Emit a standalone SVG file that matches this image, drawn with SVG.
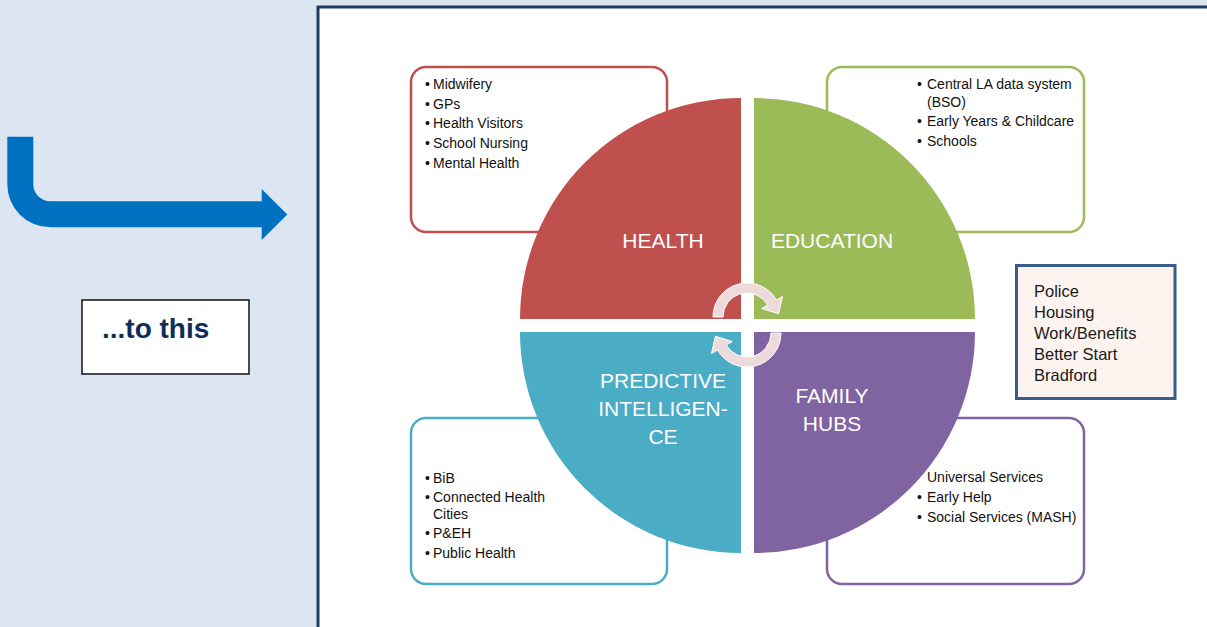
<svg xmlns="http://www.w3.org/2000/svg" width="1207" height="627" viewBox="0 0 1207 627">
<defs>
<style>
.bg{fill:#DCE6F2}
.frame{fill:#FFFFFF;stroke:#1F3B63;stroke-width:3}
.box{fill:#FFFFFF;stroke-width:2.5}
.t{font-family:"Liberation Sans",Arial,sans-serif;font-size:14px;fill:#111111}
.q{font-family:"Liberation Sans",Arial,sans-serif;font-size:21px;fill:#FFFFFF;text-anchor:middle}
.side{font-family:"Liberation Sans",Arial,sans-serif;font-size:16.5px;fill:#1A1A1A}
.cyc{fill:#EEDADA;stroke:#FFFFFF;stroke-width:1}
</style>
</defs>
<rect class="bg" x="0" y="0" width="1207" height="627"/>
<rect class="frame" x="318" y="7" width="1000" height="700"/>

<g id="to-this">
<rect x="82" y="300" width="167" height="74" fill="#FFFFFF" stroke="#111111" stroke-width="1.5"/>
<text x="102" y="338" font-family="'Liberation Sans',Arial,sans-serif" font-size="28" font-weight="bold" fill="#0F2D5A">...to this</text>
</g>

<g id="health-box">
<rect class="box" x="411" y="67" width="256" height="165" rx="15" stroke="#C0504D"/>
<text class="t" x="425" y="89">•</text><text class="t" x="433" y="89">Midwifery</text>
<text class="t" x="425" y="109">•</text><text class="t" x="433" y="109">GPs</text>
<text class="t" x="425" y="128">•</text><text class="t" x="433" y="128">Health Visitors</text>
<text class="t" x="425" y="148">•</text><text class="t" x="433" y="148">School Nursing</text>
<text class="t" x="425" y="168">•</text><text class="t" x="433" y="168">Mental Health</text>
</g>

<g id="education-box">
<rect class="box" x="827" y="67" width="257" height="165" rx="15" stroke="#9BBB59"/>
<text class="t" x="917" y="89">•</text><text class="t" x="927" y="89">Central LA data system</text>
<text class="t" x="927" y="107">(BSO)</text>
<text class="t" x="917" y="126">•</text><text class="t" x="927" y="126">Early Years &amp; Childcare</text>
<text class="t" x="917" y="146">•</text><text class="t" x="927" y="146">Schools</text>
</g>

<g id="predictive-box">
<rect class="box" x="411" y="418" width="256" height="166" rx="15" stroke="#4BACC6"/>
<text class="t" x="425" y="483">•</text><text class="t" x="433" y="483">BiB</text>
<text class="t" x="425" y="502">•</text><text class="t" x="433" y="502">Connected Health</text>
<text class="t" x="433" y="519">Cities</text>
<text class="t" x="425" y="538">•</text><text class="t" x="433" y="538">P&amp;EH</text>
<text class="t" x="425" y="558">•</text><text class="t" x="433" y="558">Public Health</text>
</g>

<g id="family-box">
<rect class="box" x="827" y="418" width="257" height="166" rx="15" stroke="#8064A2"/>
<text class="t" x="927" y="482">Universal Services</text>
<text class="t" x="917" y="502">•</text><text class="t" x="927" y="502">Early Help</text>
<text class="t" x="917" y="522">•</text><text class="t" x="927" y="522">Social Services (MASH)</text>
</g>

<g id="health">
<path d="M741,319 L520,319 A221,221 0 0 1 741,98 Z" fill="#C0504D"/>
<text class="q" x="663" y="248">HEALTH</text>
</g>
<g id="education">
<path d="M754,319 L754,98 A221,221 0 0 1 975,319 Z" fill="#9BBB59"/>
<text class="q" x="832" y="248">EDUCATION</text>
</g>
<g id="family-hubs">
<path d="M754,332 L975,332 A221,221 0 0 1 754,553 Z" fill="#8064A2"/>
<text class="q" x="832" y="403">FAMILY</text>
<text class="q" x="832" y="431">HUBS</text>
</g>
<g id="predictive-intelligence">
<path d="M741,332 L741,553 A221,221 0 0 1 520,332 Z" fill="#4BACC6"/>
<text class="q" x="663" y="388">PREDICTIVE</text>
<text class="q" x="663" y="416">INTELLIGEN-</text>
<text class="q" x="663" y="444">CE</text>
</g>

<g id="other-partners">
<rect x="1016.5" y="265.5" width="158.5" height="133" fill="#FDF3EF" stroke="#385D8A" stroke-width="3"/>
<text class="side" x="1034" y="297">Police</text>
<text class="side" x="1034" y="318">Housing</text>
<text class="side" x="1034" y="339">Work/Benefits</text>
<text class="side" x="1034" y="360">Better Start</text>
<text class="side" x="1034" y="381">Bradford</text>
</g>

<g id="connectors">
<path d="M7.3,136.7 L33.3,136.7 L33.3,184.3 A17,17 0 0 0 50.3,201.3 L261.7,201.3 L261.7,189 L287.3,214.5 L261.7,240 L261.7,227.3 L50.3,227.3 A43,43 0 0 1 7.3,184.3 Z" fill="#0070C0"/>
<path id="cycle-top" class="cyc" d="M713,317 A34,34 0 0 1 776.44,300 L782.5,296.5 L778.6,313.8 L761.72,308.5 L767.78,305 A24,24 0 0 0 723,317 Z"/>
<path id="cycle-bottom" class="cyc" transform="rotate(180 747 325)" d="M713,317 A34,34 0 0 1 776.44,300 L782.5,296.5 L778.6,313.8 L761.72,308.5 L767.78,305 A24,24 0 0 0 723,317 Z"/>
</g>
</svg>
